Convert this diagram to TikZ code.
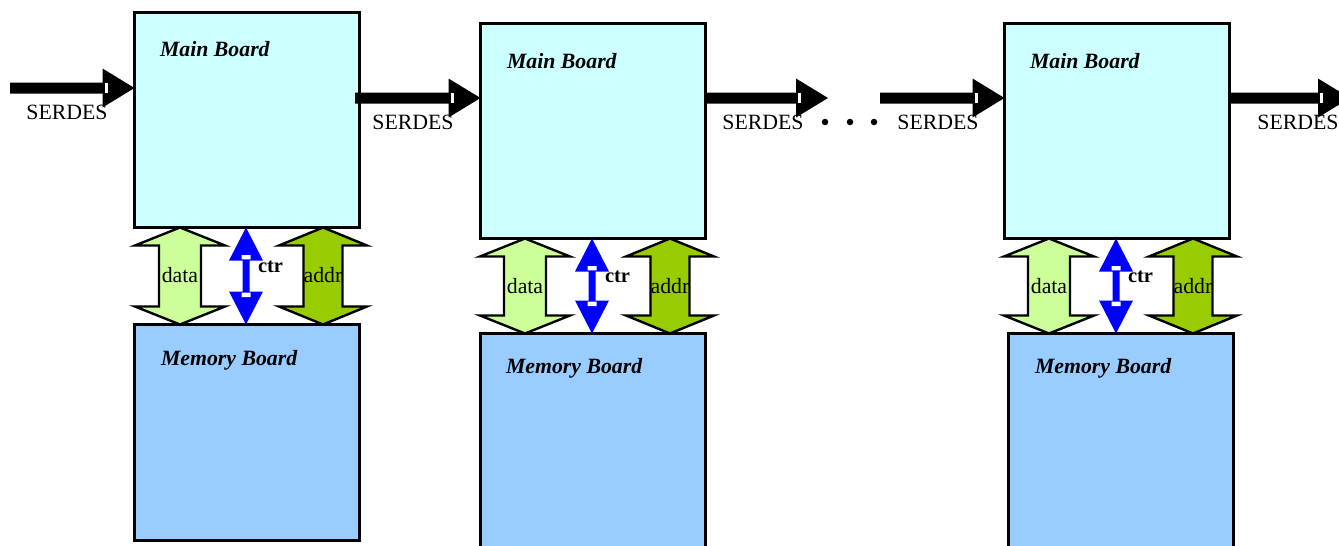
\documentclass[tikz,border=0pt]{standalone}
\usepackage{fontspec}
\setmainfont{Liberation Serif}
\usetikzlibrary{calc}

\definecolor{mainfill}{HTML}{CCFFFF}
\definecolor{memfill}{HTML}{99CCFF}
\definecolor{datafill}{HTML}{CCFF99}
\definecolor{addrfill}{HTML}{99CC00}
\definecolor{ctrfill}{HTML}{0000FF}

% Thick horizontal serial link with a triangular head: from #1 to #2
\newcommand\serdeslink[2]{%
  \path[fill=black] let \p1=(#1), \p2=(#2) in
    (\x1,\y1+5.5pt) -- (\x2-32pt,\y1+5.5pt) -- (\x2-32pt,\y1+19.5pt) -- (\x2,\y1)
    -- (\x2-32pt,\y1-19.5pt) -- (\x2-32pt,\y1-5.5pt) -- (\x1,\y1-5.5pt) -- cycle;
  \path[fill=white] let \p1=(#1), \p2=(#2) in
    (\x2-30pt,\y1+5pt) rectangle (\x2-27pt,\y1-5pt);
}
% Vertical double-headed block arrow between two points
% #1 style, #2 top, #3 bottom, #4 half head width, #5 half shaft width, #6 head length
\newcommand\busarrow[6]{%
  \path[#1] let \p1=(#2), \p2=(#3) in
    (\x1,\y1) -- (\x1+#4,\y1-#6) -- (\x1+#5,\y1-#6) -- (\x1+#5,\y2+#6)
    -- (\x1+#4,\y2+#6) -- (\x1,\y2) -- (\x1-#4,\y2+#6) -- (\x1-#5,\y2+#6)
    -- (\x1-#5,\y1-#6) -- (\x1-#4,\y1-#6) -- cycle;
}
% Control line: blue double arrow with two light marks near the heads
\newcommand\ctrarrow[2]{%
  \busarrow{fill=ctrfill}{#1}{#2}{17pt}{3.5pt}{33pt}
  \path[fill=white] let \p1=(#1), \p2=(#2) in
    (\x1-4.5pt,\y1-33pt+1.2pt) rectangle (\x1+4.5pt,\y1-33pt+5.5pt)
    (\x1-4.5pt,\y2+33pt-1.2pt) rectangle (\x1+4.5pt,\y2+33pt-5.5pt);
}

\tikzset{
  txt/.style={inner sep=0pt, outer sep=0pt, font=\fontsize{21.8}{26}\selectfont},
  board/.style={draw, line width=2.6pt, inner sep=0pt, outer sep=0pt,
    minimum width=225pt, anchor=north west},
  mainboard/.style={board, fill=mainfill, minimum height=215pt},
  memboard/.style={board, fill=memfill, minimum height=216pt},
  boardtitle/.style={txt, anchor=west, font=\fontsize{21.8}{26}\selectfont\bfseries\itshape},
  databus/.style={fill=datafill, draw=black, line width=2.4pt},
  addrbus/.style={fill=addrfill, draw=black, line width=2.4pt},
  ctrtext/.style={txt, anchor=west, font=\fontsize{20.5}{24}\selectfont\bfseries},
  dot/.style={circle, fill=black, inner sep=0pt, minimum size=6.5pt},
}

\begin{document}
\begin{tikzpicture}[x=1pt, y=-1pt]
\useasboundingbox (0,0) rectangle (1339,546);
\clip (0,0) rectangle (1339,546);

% ---- boards ----
\node[mainboard] (mb1) at (134.5,12.5) {};
\node[memboard]  (mem1) at (134.5,324.5) {};
\node[mainboard] (mb2) at (480.5,23.5) {};
\node[memboard, minimum height=240pt] (mem2) at (480.5,333.5) {};
\node[mainboard] (mb3) at (1004.5,23.5) {};
\node[memboard, minimum height=240pt] (mem3) at (1008.5,333.5) {};

\node[boardtitle] (mb1t)  at (160,49)  {Main Board};
\node[boardtitle] (mem1t) at (161,360) {Memory Board};
\node[boardtitle] (mb2t)  at (507,61)  {Main Board};
\node[boardtitle] (mem2t) at (506,368) {Memory Board};
\node[boardtitle] (mb3t)  at (1030,61) {Main Board};
\node[boardtitle] (mem3t) at (1035,368) {Memory Board};

% ---- serial links ----
\coordinate (s1) at (10,88);
\coordinate (s2) at (355,98);
\coordinate (s3) at (706,98);
\coordinate (s3e) at (828,98);
\coordinate (s4) at (880,98);
\coordinate (s5) at (1230,98);
\coordinate (s5e) at (1350,98);
\serdeslink{s1}{mb1.west |- s1}
\serdeslink{s2}{mb2.west |- s2}
\serdeslink{s3}{s3e}
\serdeslink{s4}{mb3.west |- s4}
\serdeslink{s5}{s5e}

\node[txt] (l1) at (67,112)   {SERDES};
\node[txt] (l2) at (413,122)  {SERDES};
\node[txt] (l3) at (763,122)  {SERDES};
\node[txt] (l4) at (938,122)  {SERDES};
\node[txt] (l5) at (1298,122) {SERDES};

\node[dot] (d1) at (825,122) {};
\node[dot] (d2) at (850,122) {};
\node[dot] (d3) at (874,122) {};

% ---- board-to-memory buses ----
\coordinate (da1) at (180,275);
\coordinate (ct1) at (246,267);
\coordinate (ad1) at (323,275);
\coordinate (da2) at (525,286);
\coordinate (ct2) at (592,277);
\coordinate (ad2) at (670,286);
\coordinate (da3) at (1049,286);
\coordinate (ct3) at (1116,277);
\coordinate (ad3) at (1193,286);

\busarrow{databus}{mb1.south -| da1}{mem1.north -| da1}{45pt}{21pt}{18pt}
\busarrow{addrbus}{mb1.south -| ad1}{mem1.north -| ad1}{44pt}{19.5pt}{18pt}
\ctrarrow{mb1.south -| ct1}{mem1.north -| ct1}
\busarrow{databus}{mb2.south -| da2}{mem2.north -| da2}{45pt}{21pt}{18pt}
\busarrow{addrbus}{mb2.south -| ad2}{mem2.north -| ad2}{44pt}{19.5pt}{18pt}
\ctrarrow{mb2.south -| ct2}{mem2.north -| ct2}
\busarrow{databus}{mb3.south -| da3}{mem3.north -| da3}{45pt}{21pt}{18pt}
\busarrow{addrbus}{mb3.south -| ad3}{mem3.north -| ad3}{44pt}{19.5pt}{18pt}
\ctrarrow{mb3.south -| ct3}{mem3.north -| ct3}

\node[txt] (da1t) at (da1) {data};
\node[txt] (ad1t) at (ad1) {addr};
\node[ctrtext] (ct1t) at ($(ct1)+(12,0)$) {ctr};
\node[txt] (da2t) at (da2) {data};
\node[txt] (ad2t) at (ad2) {addr};
\node[ctrtext] (ct2t) at ($(ct2)+(13,0)$) {ctr};
\node[txt] (da3t) at (da3) {data};
\node[txt] (ad3t) at (ad3) {addr};
\node[ctrtext] (ct3t) at ($(ct3)+(12,0)$) {ctr};
\end{tikzpicture}
\end{document}
